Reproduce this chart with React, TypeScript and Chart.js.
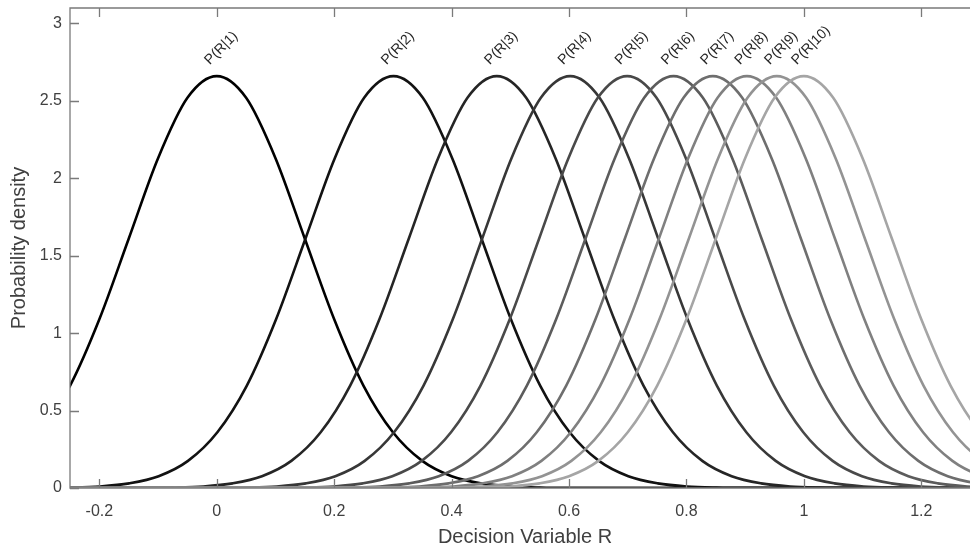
import React, { useEffect, useRef } from "react";
import { Chart, registerables } from "chart.js";

Chart.register(...registerables);

// ---- data ----
const curveLabels = [
  "P(R|1)", "P(R|2)", "P(R|3)", "P(R|4)", "P(R|5)",
  "P(R|6)", "P(R|7)", "P(R|8)", "P(R|9)", "P(R|10)",
];
// x position of each curve's peak
const peakMeans = [0, 0.301, 0.477, 0.602, 0.699, 0.778, 0.845, 0.903, 0.954, 1.0];
// common bell profile: offset from the peak (x) and density
const profileOffsets = [
  -1.5, -0.6, -0.55, -0.5, -0.45, -0.4, -0.35, -0.3, -0.25, -0.2, -0.15, -0.1, -0.05,
  0,
  0.05, 0.1, 0.15, 0.2, 0.25, 0.3, 0.35, 0.4, 0.45, 0.5, 0.55, 0.6, 1.5,
];
const profileDensity = [
  0, 0.001, 0.003, 0.01, 0.03, 0.076, 0.175, 0.36, 0.66, 1.09, 1.61, 2.13, 2.52,
  2.66,
  2.52, 2.13, 1.61, 1.09, 0.66, 0.36, 0.175, 0.076, 0.03, 0.01, 0.003, 0.001, 0,
];
const peakDensity = 2.66;
const xTicks = [-0.2, 0, 0.2, 0.4, 0.6, 0.8, 1, 1.2];
const yTicks = [0, 0.5, 1, 1.5, 2, 2.5, 3];
const xTitle = "Decision Variable R";
const yTitle = "Probability density";

const FONT = "'Liberation Sans', Arial, Helvetica, sans-serif";
const fmt = (v: number) => String(Number(v.toFixed(2)));

export default function App() {
  const ref = useRef<HTMLCanvasElement | null>(null);

  useEffect(() => {
    document.body.style.margin = "0";
    const canvas = ref.current;
    if (!canvas) return;

    const datasets = peakMeans.map((m, i) => {
      const g = Math.round((165 * i) / 9);
      const col = `rgb(${g},${g},${g})`;
      return {
        label: curveLabels[i],
        data: profileOffsets.map((o, k) => ({ x: m + o, y: profileDensity[k] })),
        borderColor: col,
        backgroundColor: col,
        borderWidth: 2.6,
        pointRadius: 0,
        cubicInterpolationMode: "monotone" as const,
        fill: false,
        order: peakMeans.length - i,
      };
    });

    const framePlugin = {
      id: "frame",
      afterDraw(chart: any) {
        const { ctx, chartArea: a, scales } = chart;
        const xs = scales.x;
        const ys = scales.y;
        ctx.save();
        ctx.strokeStyle = "#7a7a7a";
        ctx.lineWidth = 1.3;
        ctx.beginPath();
        ctx.moveTo(a.left, a.top);
        ctx.lineTo(a.right, a.top);
        ctx.lineTo(a.right, a.bottom);
        ctx.lineTo(a.left, a.bottom);
        ctx.closePath();
        ctx.stroke();
        const tl = 9;
        ctx.beginPath();
        xTicks.forEach((v) => {
          const px = Math.round(xs.getPixelForValue(v)) + 0.5;
          ctx.moveTo(px, a.bottom);
          ctx.lineTo(px, a.bottom - tl);
          ctx.moveTo(px, a.top);
          ctx.lineTo(px, a.top + tl);
        });
        yTicks.forEach((v) => {
          const py = Math.round(ys.getPixelForValue(v)) + 0.5;
          ctx.moveTo(a.left, py);
          ctx.lineTo(a.left + tl, py);
          ctx.moveTo(a.right, py);
          ctx.lineTo(a.right - tl, py);
        });
        ctx.stroke();
        ctx.restore();
      },
      afterDatasetsDraw(chart: any) {
        const { ctx, scales } = chart;
        ctx.save();
        ctx.fillStyle = "#262626";
        ctx.font = `14px ${FONT}`;
        ctx.textAlign = "left";
        ctx.textBaseline = "alphabetic";
        peakMeans.forEach((m, i) => {
          const px = scales.x.getPixelForValue(m);
          const py = scales.y.getPixelForValue(peakDensity);
          ctx.save();
          ctx.translate(px - 7, py - 11);
          ctx.rotate(-Math.PI / 4);
          ctx.fillText(curveLabels[i], 0, 0);
          ctx.restore();
        });
        ctx.restore();
      },
    };

    const chart = new Chart(canvas, {
      type: "line",
      data: { datasets },
      options: {
        responsive: false,
        animation: false,
        events: [],
        layout: { padding: { top: 8, right: 2, left: 0, bottom: 0 } },
        plugins: { legend: { display: false }, tooltip: { enabled: false } },
        scales: {
          x: {
            type: "linear",
            min: -0.25,
            max: 1.3,
            afterBuildTicks: (s: any) => {
              s.ticks = xTicks.map((v) => ({ value: v }));
            },
            afterFit: (s: any) => {
              s.height = 62;
              s.paddingLeft = 0;
              s.paddingRight = 0;
            },
            grid: { display: false, drawTicks: false },
            border: { display: false },
            ticks: {
              padding: 14,
              color: "#404040",
              font: { family: FONT, size: 16 },
              maxRotation: 0,
              autoSkip: false,
              callback: (v: any) => fmt(Number(v)),
            },
            title: {
              display: true,
              text: xTitle,
              color: "#404040",
              font: { family: FONT, size: 20 },
              padding: { top: 0, bottom: 1 },
            },
          },
          y: {
            type: "linear",
            min: 0,
            max: 3.1,
            afterBuildTicks: (s: any) => {
              s.ticks = yTicks.map((v) => ({ value: v }));
            },
            afterFit: (s: any) => {
              s.width = 70;
              s.paddingTop = 0;
              s.paddingBottom = 0;
            },
            grid: { display: false, drawTicks: false },
            border: { display: false },
            ticks: {
              padding: 8,
              color: "#404040",
              font: { family: FONT, size: 16 },
              autoSkip: false,
              callback: (v: any) => fmt(Number(v)),
            },
            title: {
              display: true,
              text: yTitle,
              color: "#404040",
              font: { family: FONT, size: 20 },
              padding: { top: 7, bottom: 0 },
            },
          },
        },
      },
      plugins: [framePlugin],
    });

    return () => chart.destroy();
  }, []);

  return (
    <div style={{ width: 970, height: 550, overflow: "hidden", position: "relative", background: "#fff" }}>
      <canvas ref={ref} width={982} height={550} style={{ display: "block", width: 982, height: 550 }} />
    </div>
  );
}
